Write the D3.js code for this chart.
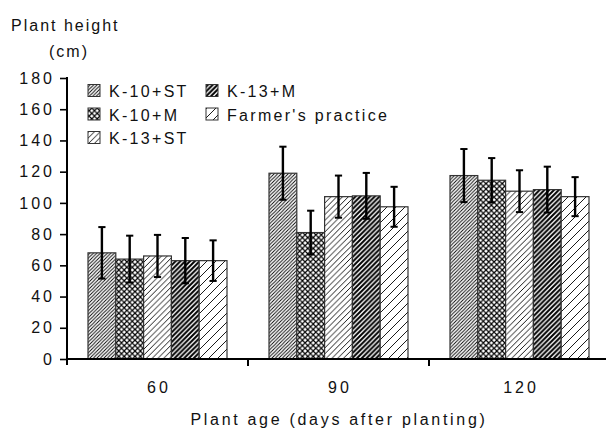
<!DOCTYPE html>
<html>
<head>
<meta charset="utf-8">
<script src="https://cdn.jsdelivr.net/npm/d3@7/dist/d3.min.js"></script>
<style>
  html, body { margin: 0; padding: 0; background: #fff; }
  svg { display: block; font-family: "Liberation Sans", Arial, sans-serif; }
  text { fill: #111; }
</style>
</head>
<body>
<svg id="chart" width="606" height="432"></svg>
<script>
// Plant age groups (days after planting)
const categories = ["60", "90", "120"];

// Treatments
const seriesNames = ["K-10+ST", "K-10+M", "K-13+ST", "K-13+M", "Farmer's practice"];

// Mean plant height (cm) per treatment, one value per plant age
const k10st = [68, 119, 117.5];
const k10m = [64, 81, 114.5];
const k13st = [66, 104, 107.5];
const k13m = [63, 104.5, 108.5];
const farmer = [63, 97.5, 104];

// Standard deviation (cm)
const k10stSd = [16.5, 17, 17];
const k10mSd = [15, 14, 14.2];
const k13stSd = [13.5, 13.5, 13.4];
const k13mSd = [14.5, 14.7, 14.7];
const farmerSd = [13, 12.8, 12.5];

// Axis ticks
const yTicks = [0, 20, 40, 60, 80, 100, 120, 140, 160, 180];

const means = [k10st, k10m, k13st, k13m, farmer];
const sds = [k10stSd, k10mSd, k13stSd, k13mSd, farmerSd];

const svg = d3.select("#chart");

const x0 = d3.scaleBand().domain(categories).range([67, 610]).paddingInner(0).paddingOuter(0);
const x1 = d3.scaleBand().domain(seriesNames).range([21, 160]).padding(0);
const y = d3.scaleLinear().domain([0, 180]).range([359, 78]);

// Hatch fills
const defs = svg.append("defs");
function hatch(id, s, w, cross) {
  const p = defs.append("pattern").attr("id", id)
    .attr("patternUnits", "userSpaceOnUse").attr("width", s).attr("height", s);
  p.append("rect").attr("width", s).attr("height", s).attr("fill", "#fff");
  let d = `M0,${s} L${s},0 M${-s/2},${s/2} L${s/2},${-s/2} M${s/2},${s*1.5} L${s*1.5},${s/2}`;
  if (cross) d += ` M0,0 L${s},${s} M${-s/2},${s/2} L${s/2},${s*1.5} M${s/2},${-s/2} L${s*1.5},${s/2}`;
  p.append("path").attr("d", d).attr("stroke", "#000").attr("stroke-width", w).attr("fill", "none");
}
hatch("h0", 3.5, 0.9, false);
hatch("h1", 5.4, 1.2, true);
hatch("h2", 5.8, 0.9, false);
hatch("h3", 4.8, 2.0, false);
hatch("h4", 9, 0.9, false);
const fills = ["url(#h0)", "url(#h1)", "url(#h2)", "url(#h3)", "url(#h4)"];

// Bars
const rows = [];
categories.forEach((c, ci) => {
  seriesNames.forEach((s, si) => {
    rows.push({ c, s, si, v: means[si][ci], sd: sds[si][ci] });
  });
});

const bars = svg.append("g");
bars.selectAll("rect").data(rows).join("rect")
  .attr("x", d => x0(d.c) + x1(d.s))
  .attr("y", d => y(d.v))
  .attr("width", x1.bandwidth())
  .attr("height", d => y(0) - y(d.v))
  .attr("fill", d => fills[d.si])
  .attr("stroke", "#333")
  .attr("stroke-width", 1.2);

// Error bars
const eb = svg.append("g").attr("stroke", "#000");
rows.forEach(d => {
  const cx = x0(d.c) + x1(d.s) + x1.bandwidth() / 2;
  eb.append("line").attr("x1", cx).attr("x2", cx)
    .attr("y1", y(d.v + d.sd)).attr("y2", y(d.v - d.sd)).attr("stroke-width", 2.4);
  [d.v + d.sd, d.v - d.sd].forEach(v => {
    eb.append("line").attr("x1", cx - 3.6).attr("x2", cx + 3.6)
      .attr("y1", y(v)).attr("y2", y(v)).attr("stroke-width", 2);
  });
});

// Y axis
const yAxis = svg.append("g").attr("transform", "translate(67,0)")
  .call(d3.axisLeft(y).tickValues(yTicks).tickSize(7).tickPadding(5).tickSizeOuter(0));
yAxis.select(".domain").remove();
yAxis.selectAll(".tick line").attr("stroke", "#000").attr("stroke-width", 1.6);
yAxis.selectAll(".tick text").attr("font-size", 16).attr("letter-spacing", 3)
  .attr("font-family", "Liberation Sans, Arial, sans-serif").attr("fill", "#111");
svg.append("line").attr("x1", 67).attr("x2", 67).attr("y1", y(180) - 1).attr("y2", 365)
  .attr("stroke", "#000").attr("stroke-width", 2);

// X axis
svg.append("line").attr("x1", 66).attr("x2", 610).attr("y1", y(0)).attr("y2", y(0))
  .attr("stroke", "#000").attr("stroke-width", 2);
svg.append("g").selectAll("line").data(categories.slice(1)).join("line")
  .attr("x1", d => x0(d)).attr("x2", d => x0(d))
  .attr("y1", y(0)).attr("y2", y(0) + 7)
  .attr("stroke", "#000").attr("stroke-width", 2);
svg.append("g").selectAll("text").data(categories).join("text")
  .attr("x", d => x0(d) + x0.bandwidth() / 2 + 1.5)
  .attr("y", 393)
  .attr("text-anchor", "middle")
  .attr("font-size", 16).attr("letter-spacing", 3)
  .text(d => d);

// Axis titles
svg.append("text").attr("x", 11).attr("y", 31).attr("font-size", 16)
  .attr("letter-spacing", 2).text("Plant height");
svg.append("text").attr("x", 69).attr("y", 57).attr("text-anchor", "middle")
  .attr("font-size", 16).attr("letter-spacing", 2).text("(cm)");
svg.append("text").attr("x", 339).attr("y", 425).attr("text-anchor", "middle")
  .attr("font-size", 16).attr("letter-spacing", 2.7).text("Plant age (days after planting)");

// Legend
const legendPos = [
  [88, 84.5], [88, 108], [88, 131.5], [206, 84.5], [206, 108]
];
const legend = svg.append("g");
seriesNames.forEach((s, i) => {
  const [lx, ly] = legendPos[i];
  legend.append("rect").attr("x", lx).attr("y", ly).attr("width", 12).attr("height", 12)
    .attr("fill", fills[i]).attr("stroke", "#333").attr("stroke-width", 1);
  legend.append("text").attr("x", lx + 21).attr("y", ly + 12.5)
    .attr("font-size", 16).attr("letter-spacing", 2.3).text(s);
});
</script>
</body>
</html>
